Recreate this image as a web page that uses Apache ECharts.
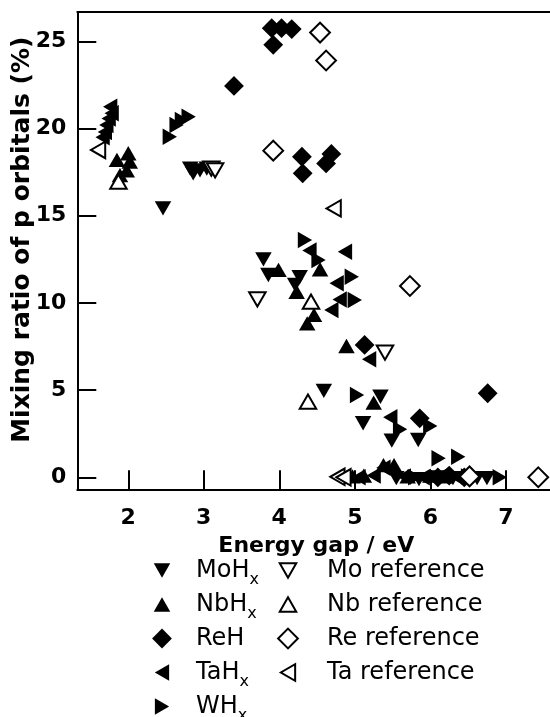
<!DOCTYPE html>
<html><head><meta charset="utf-8">
<script src="https://cdn.jsdelivr.net/npm/echarts@6/dist/echarts.min.js"></script>
<style>html,body{margin:0;padding:0;background:#fff}#c{width:550px;height:717px}</style>
</head><body><div id="c"></div>
<script>
// ---- data ----
const xTicks = [2, 3, 4, 5, 6, 7];
const yTicks = [0, 5, 10, 15, 20, 25];
const xTitle = 'Energy gap / eV';
const yTitle = 'Mixing ratio of p orbitals (%)';

const moX = [2.46, 2.82, 2.86, 2.95, 3.04, 3.79, 3.855, 4.27, 4.21, 4.59, 5.34, 5.11, 5.49, 5.84, 5.55, 5.85, 6.08, 6.3, 6.62, 6.75];
const moY = [15.42, 17.7, 17.43, 17.6, 17.7, 12.5, 11.6, 11.47, 11.03, 4.95, 4.62, 3.1, 2.1, 2.14, -0.05, -0.1, 0.0, -0.05, -0.05, -0.05];

const nbX = [1.85, 2.0, 2.02, 1.98, 1.89, 3.99, 4.54, 4.23, 4.46, 4.37, 4.89, 5.25, 5.38, 5.52, 4.97, 5.12, 5.7, 6.0, 6.2];
const nbY = [18.2, 18.58, 18.1, 17.6, 17.33, 11.89, 11.93, 10.64, 9.31, 8.83, 7.53, 4.28, 0.7, 0.7, 0.05, 0.1, 0.05, 0.1, 0.05];

const reX = [3.90, 4.03, 4.165, 3.92, 3.40, 4.30, 4.31, 4.69, 4.62, 5.13, 5.86, 6.76, 6.1, 6.25, 6.45];
const reY = [25.75, 25.75, 25.7, 24.8, 22.44, 18.38, 17.43, 18.54, 18.0, 7.59, 3.38, 4.82, 0.0, 0.1, 0.0];

const taX = [1.76, 1.78, 1.74, 1.71, 1.69, 1.66, 4.40, 4.87, 4.76, 4.80, 4.69, 5.19, 5.47, 5.38, 5.05, 5.25, 5.65, 5.9, 6.15, 6.35];
const taY = [21.25, 20.87, 20.58, 20.2, 19.8, 19.5, 13.0, 12.94, 11.12, 10.2, 9.59, 6.77, 3.44, 0.55, 0.0, 0.1, 0.05, 0.0, 0.1, 0.0];

const wX = [2.55, 2.64, 2.71, 2.80, 4.34, 4.52, 4.96, 5.0, 5.03, 5.6, 6.0, 6.11, 6.37, 5.8, 6.5, 6.92];
const wY = [19.53, 20.2, 20.49, 20.68, 13.6, 12.46, 11.5, 10.17, 4.72, 2.75, 2.94, 1.09, 1.18, 0.0, 0.05, 0.0];

const moRefX = [3.10, 3.15, 3.71, 5.40];
const moRefY = [17.7, 17.6, 10.2, 7.15];
const nbRefX = [1.87, 4.42, 4.38];
const nbRefY = [16.95, 10.07, 4.34];
const reRefX = [4.54, 4.62, 3.92, 5.73, 6.52, 7.43];
const reRefY = [25.5, 23.9, 18.73, 10.97, 0.05, 0.0];
const taRefX = [1.60, 4.72, 4.77, 4.85];
const taRefY = [18.77, 15.42, 0.03, 0.0];

const filledNames = ['MoHx', 'NbHx', 'ReH', 'TaHx', 'WHx'];
const refNames = ['Mo reference', 'Nb reference', 'Re reference', 'Ta reference'];

// ---- styling ----
const FONT = 'DejaVu Sans';
const SYM = {
  down: 'path://M0 0M20 20M2.5 3.5L17.5 3.5L10 16.5Z',
  up: 'path://M0 0M20 20M2.5 16.5L17.5 16.5L10 3.5Z',
  left: 'path://M0 0M20 20M16.5 2.5L16.5 17.5L3.5 10Z',
  right: 'path://M0 0M20 20M3.5 2.5L3.5 17.5L16.5 10Z',
  diamond: 'path://M0 0M20 20M10 1L19 10L10 19L1 10Z'
};
const pairs = (xs, ys) => xs.map((x, i) => [x, ys[i]]);
const filledStyle = { color: '#000', borderWidth: 0, opacity: 1 };
const openStyle = { color: '#fff', borderColor: '#000', borderWidth: 2, opacity: 1 };
function mk(name, xs, ys, sym, open) {
  return {
    type: 'scatter', name, data: pairs(xs, ys), symbol: sym, symbolSize: 22,
    itemStyle: open ? openStyle : filledStyle, z: open ? 3 : 2,
    emphasis: { disabled: true }
  };
}
const series = [
  mk('MoHx', moX, moY, SYM.down, false),
  mk('NbHx', nbX, nbY, SYM.up, false),
  mk('ReH', reX, reY, SYM.diamond, false),
  mk('TaHx', taX, taY, SYM.left, false),
  mk('WHx', wX, wY, SYM.right, false),
  mk('Mo reference', moRefX, moRefY, SYM.down, true),
  mk('Nb reference', nbRefX, nbRefY, SYM.up, true),
  mk('Re reference', reRefX, reRefY, SYM.diamond, true),
  mk('Ta reference', taRefX, taRefY, SYM.left, true)
];

function legendFmt(name) {
  const body = /Hx$/.test(name) ? name.slice(0, -1) + '{sub|x}' : name;
  return '{gap| }' + body;
}
function legendCfg(names, left, gap) {
  return {
    data: names, orient: 'vertical', left: left, top: 553.5, height: 200, padding: 0,
    itemWidth: 22, itemHeight: 22, itemGap: 0, selectedMode: false,
    formatter: legendFmt,
    textStyle: {
      fontFamily: FONT, fontSize: 24, color: '#000', lineHeight: 34,
      rich: {
        gap: { width: gap, fontSize: 24, lineHeight: 34 },
        sub: { fontFamily: FONT, fontSize: 16, lineHeight: 34, verticalAlign: 'bottom', color: '#000' }
      }
    }
  };
}

const axisLineStyle = { color: '#000', width: 2 };
const labelStyle = { fontFamily: FONT, fontSize: 22, fontWeight: 'bold', color: '#000' };
const chart = echarts.init(document.getElementById('c'), null, { renderer: 'canvas' });
chart.setOption({
  animation: false,
  backgroundColor: '#fff',
  grid: { left: 77.3, top: 12, width: 500, height: 477.3, containLabel: false, outerBoundsMode: 'none' },
  xAxis: [{
    type: 'value', min: 1.325, max: 7.947, position: 'bottom',
    axisLine: { show: true, onZero: false, lineStyle: axisLineStyle },
    axisTick: { show: true, inside: true, length: 19, customValues: xTicks, lineStyle: axisLineStyle },
    axisLabel: Object.assign({ customValues: xTicks, margin: 18 }, labelStyle),
    splitLine: { show: false },
    name: xTitle, nameLocation: 'middle', nameGap: 46, nameMoveOverlap: false,
    nameTextStyle: { fontFamily: FONT, fontSize: 22, fontWeight: 'bold', color: '#000', padding: [0, 22, 0, 0] }
  }, {
    type: 'value', min: 1.325, max: 7.947, position: 'top',
    axisLine: { show: true, onZero: false, lineStyle: axisLineStyle },
    axisTick: { show: false }, axisLabel: { show: false }, splitLine: { show: false }
  }],
  yAxis: {
    type: 'value', min: -0.688, max: 26.68,
    axisLine: { show: true, onZero: false, lineStyle: axisLineStyle },
    axisTick: { show: true, inside: true, length: 19, customValues: yTicks, lineStyle: axisLineStyle },
    axisLabel: Object.assign({ customValues: yTicks, margin: 11 }, labelStyle),
    splitLine: { show: false },
    name: yTitle, nameLocation: 'middle', nameGap: 42, nameRotate: 90, nameMoveOverlap: false,
    nameTextStyle: { fontFamily: FONT, fontSize: 25, fontWeight: 'bold', color: '#000', padding: [0, 0, 0, 22] }
  },
  legend: [legendCfg(filledNames, 151, 18), legendCfg(refNames, 276, 23)],
  series: series
});
</script></body></html>
